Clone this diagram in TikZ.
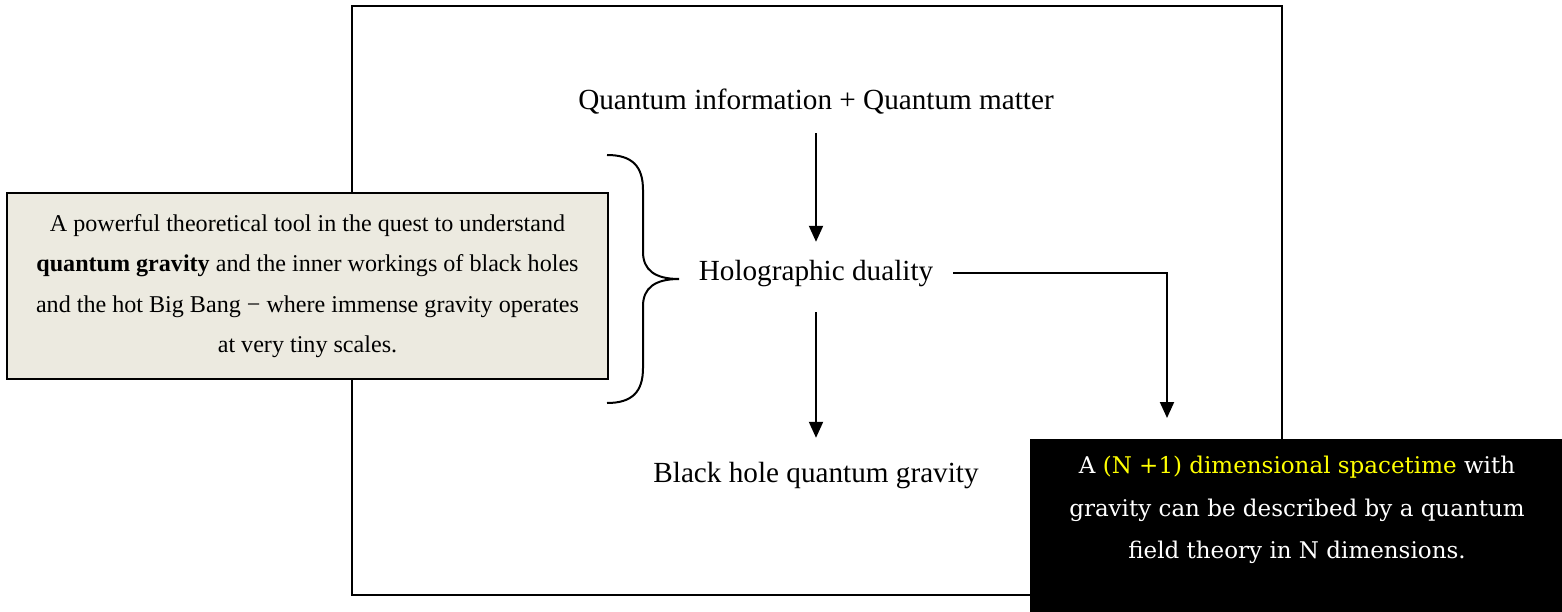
\documentclass[tikz,border=0pt]{standalone}
\usepackage{fontspec}
\setmainfont{Liberation Serif}
\newfontfamily\darkfont{DejaVu Serif}
\usetikzlibrary{arrows.meta}
\definecolor{notebeige}{HTML}{ECEAE0}
\definecolor{hiyellow}{HTML}{FFFF00}
\tikzset{
  flow/.style={font=\fontsize{29.2}{35}\selectfont,inner sep=0pt,
    text height=20pt,text depth=6pt,anchor=base},
  arr/.style={line width=2pt,-{Triangle[width=14pt,length=16pt]}},
  notebox/.style={draw,line width=2pt,fill=notebeige,anchor=north west,
    minimum width=601pt,minimum height=186pt,inner sep=0pt,align=center,
    font=\fontsize{24.1}{40.5}\selectfont},
  darkbox/.style={fill=black,anchor=north west,minimum width=532pt,
    minimum height=173pt,inner sep=0pt},
  darktext/.style={text=white,align=center,inner sep=0pt,
    font=\darkfont\fontsize{23}{42.5}\selectfont},
}
\begin{document}
\begin{tikzpicture}[x=1pt,y=-1pt]
        \useasboundingbox (0,0) rectangle (1562,612) ;
        % frame round the flow
        \draw[line width=1.5pt] (352,6) rectangle (1282,595) ;
        \node[flow] (qi) at (816,110) {Quantum information + Quantum matter} ;
        \node[flow] (hd) at (816,280) {Holographic duality} ;
        \node[flow] (bh) at (816,482) {Black hole quantum gravity} ;
        \draw[arr,shorten <=17pt,shorten >=18pt] (qi.south) -- (hd.north) ;
        \draw[arr,shorten <=26pt,shorten >=24pt] (hd.south) -- (bh.north) ;
        % left note and its brace
        \node[notebox] (note) at (6,192) {A powerful theoretical tool in the quest to understand\\
          \textbf{quantum gravity} and the inner workings of black holes\\
          and the hot Big Bang \textminus{} where immense gravity operates\\
          at very tiny scales.} ;
        \draw[line width=2pt] (607,155) .. controls (632,155) and (643,166) .. (643,190)
          -- (643,252) .. controls (643,270) and (655,279) .. (679,279)
          .. controls (655,279) and (643,288) .. (643,306)
          -- (643,368) .. controls (643,392) and (632,403) .. (607,403) ;
        % dark box on the right
        \node[darkbox] (bb) at (1030,439) {} ;
        \node[darktext] (bbt) at (1297,510) {A \textcolor{hiyellow}{(N +1) dimensional spacetime} with\\
          gravity can be described by a quantum\\
          field theory in N dimensions.} ;
        \draw[arr,shorten <=20pt,shorten >=21pt] (hd.east) -| ([xshift=137pt]bb.north west) ;
\end{tikzpicture}
\end{document}
